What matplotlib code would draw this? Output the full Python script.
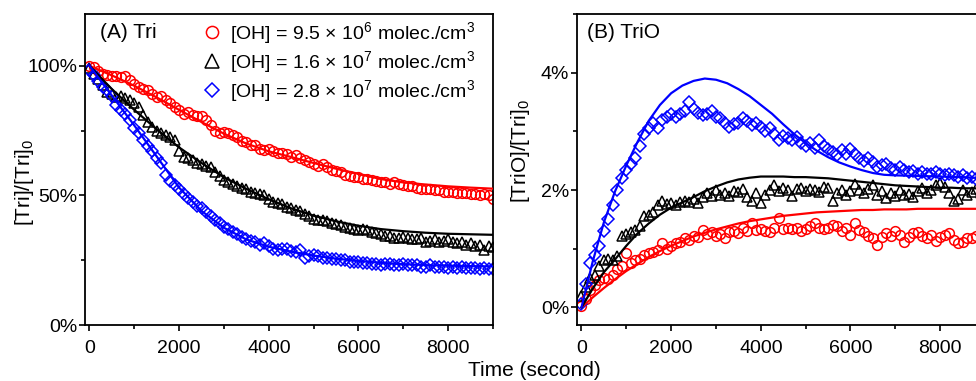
import numpy as np
import matplotlib
matplotlib.use('Agg')
import matplotlib.pyplot as plt
from matplotlib.ticker import MultipleLocator, FuncFormatter

plt.rcParams['font.family'] = ['Liberation Sans', 'DejaVu Sans']
plt.rcParams['mathtext.fontset'] = 'custom'
plt.rcParams['mathtext.rm'] = 'Liberation Sans'
plt.rcParams['mathtext.it'] = 'Liberation Sans:italic'

# measured points, every 100 s from 0 to 9000 s
time_s = np.arange(0, 9001, 100)
# fitted curves
fit_t_left = np.arange(0, 9001, 500)
fit_t_right = np.arange(0, 9001, 250)

labels = ['[OH] = 9.5 $\\times$ 10$^6$ molec./cm$^3$',
          '[OH] = 1.6 $\\times$ 10$^7$ molec./cm$^3$',
          '[OH] = 2.8 $\\times$ 10$^7$ molec./cm$^3$']

# (A) Tri, percent of initial
tri_low = [100, 99.5, 98, 97, 96.5, 96, 96.2, 95.5, 96, 94.5,
           93, 92, 91, 90.5, 89, 88, 88.5, 87, 85.5, 84,
           83, 81.5, 82, 81, 80.5, 80.5, 79, 77, 75, 74,
           74.5, 74, 73.5, 72.5, 71, 70.5, 69.5, 69.5, 68, 67.5,
           68, 67, 66.5, 66.5, 66, 65, 65.5, 64.5, 63.5, 63,
           62, 61.5, 62, 61, 60, 59.5, 59, 58, 57.5, 57,
           57, 56.5, 56.5, 56, 55.5, 55, 55, 54.5, 55, 54.5,
           54, 53.5, 53.5, 53, 52.5, 52.5, 52.5, 52, 52, 51.5,
           51.5, 51.5, 51, 51, 51, 50.5, 50.5, 50, 50.5, 50, 48.5]
tri_mid = [99, 97, 95, 92.5, 90, 89, 88, 88.5, 87.5, 87,
           85.5, 84, 81, 78.5, 76.5, 75, 74, 73.5, 72.5, 71.5,
           67, 65, 64.5, 63.5, 62.5, 62, 61.5, 61, 59, 57.5,
           56, 55, 54.5, 53.5, 53, 52.5, 51.5, 51, 50.5, 50,
           48.5, 47.5, 47, 46.5, 45.5, 45, 44.5, 44, 43, 42,
           41, 40.5, 40.5, 40, 39.5, 39, 38.5, 38, 37.5, 37,
           36.5, 37, 36.5, 36, 35.5, 35, 34.5, 34.5, 33.5, 33.5,
           34, 33.5, 33, 33, 33.5, 32, 32.5, 33, 32, 32.5,
           33, 32, 31.5, 32, 31, 31.5, 30.5, 31, 29, 30.5, 30]
tri_high = [98.5, 96.5, 94, 92, 90.5, 88.5, 85, 83, 81.5, 79,
            76, 74, 71.5, 69, 67, 64.5, 62.5, 58, 55.5, 54,
            52.5, 50.5, 49, 47.5, 46, 45, 43.5, 42, 40.5, 39.5,
            38, 37, 36, 35, 34, 33, 32.5, 32, 31, 31.5,
            30.5, 29.5, 29, 29.5, 29.5, 28.5, 28, 29, 26, 26.5,
            27, 26.5, 26, 26, 25.5, 25.5, 25, 25, 24.5, 24.5,
            24.5, 24, 24, 23.5, 23.5, 23, 23.5, 23.5, 23, 23,
            23.5, 23, 23, 23, 22.5, 22.5, 23, 22.5, 22.5, 22.5,
            22, 22.5, 22, 22.5, 22, 22, 22, 21.5, 22, 21.5, 21.5]
fit_tri_low = [100, 96.3, 92.3, 87.8, 83, 78.3, 73.8, 70, 67, 64.8,
               62.5, 60.3, 58.3, 56.3, 55, 54.2, 53.5, 53, 52.6]
fit_tri_mid = [100, 91, 83, 75.5, 68.5, 62.5, 57, 52.5, 48.5, 45,
               42.2, 40, 38.3, 37, 36.2, 35.6, 35.2, 35, 34.8]
fit_tri_high = [100, 88.5, 77, 65, 53, 44, 37.5, 33, 30.2, 28.3,
                26.8, 25.6, 24.7, 24, 23.5, 23.1, 22.9, 22.7, 22.6]

# (B) TriO, percent of initial Tri
trio_low = [0.03, 0.15, 0.3, 0.38, 0.46, 0.5, 0.48, 0.55, 0.65, 0.7,
            0.92, 0.75, 0.8, 0.82, 0.9, 0.92, 0.95, 0.98, 1.1, 1.0,
            1.05, 1.09, 1.12, 1.18, 1.15, 1.22, 1.2, 1.32, 1.25, 1.28,
            1.22, 1.25, 1.19, 1.28, 1.31, 1.26, 1.36, 1.3, 1.43, 1.32,
            1.34, 1.3, 1.28, 1.35, 1.53, 1.34, 1.36, 1.33, 1.36, 1.31,
            1.33, 1.38, 1.43, 1.36, 1.34, 1.36, 1.4, 1.38, 1.3, 1.35,
            1.23, 1.43, 1.32, 1.28, 1.22, 1.18, 1.06, 1.2, 1.26, 1.22,
            1.31, 1.24, 1.11, 1.2, 1.26, 1.28, 1.22, 1.19, 1.23, 1.14,
            1.2, 1.24, 1.26, 1.15, 1.09, 1.12, 1.18, 1.19, 1.22, 1.24, 1.2]
trio_mid = [0.2, 0.35, 0.5, 0.55, 0.7, 0.8, 0.82, 0.8, 0.88, 1.22,
            1.25, 1.28, 1.32, 1.38, 1.55, 1.58, 1.62, 1.75, 1.82, 1.76,
            1.78, 1.74, 1.8, 1.82, 1.8, 1.85, 1.78, 1.88, 1.95, 1.9,
            2.0, 1.92, 1.95, 1.9, 1.98, 1.96, 2.02, 1.88, 1.82, 1.95,
            1.78, 1.92, 2.0, 2.08, 1.98, 2.04, 2.0, 1.9, 2.02, 2.04,
            1.98, 2.02, 2.0, 1.96, 2.05, 2.04, 1.82, 1.95, 2.0, 1.92,
            1.98, 2.1, 2.0, 1.95, 2.02, 2.08, 1.92, 1.98, 1.87, 1.95,
            1.9, 2.0, 1.92, 1.94, 1.88, 1.98, 2.04, 1.95, 2.0, 2.08,
            2.12, 2.05, 1.95, 1.82, 1.85, 2.0, 1.92, 1.96, 2.02, 1.95, 1.98]
trio_high = [0.05, 0.4, 0.75, 0.9, 1.05, 1.3, 1.5, 1.75, 2.0, 2.2,
             2.35, 2.45, 2.55, 2.75, 2.95, 3.05, 3.15, 3.05, 3.2, 3.25,
             3.3, 3.25, 3.3, 3.35, 3.5, 3.38, 3.32, 3.28, 3.3, 3.35,
             3.25, 3.22, 3.15, 3.08, 3.12, 3.15, 3.22, 3.18, 3.1, 3.15,
             3.08, 3.0, 3.05, 2.95, 2.85, 2.92, 2.88, 2.85, 2.9, 2.8,
             2.75, 2.8, 2.72, 2.85, 2.75, 2.7, 2.65, 2.6, 2.68, 2.62,
             2.7, 2.62, 2.55, 2.5, 2.55, 2.48, 2.4, 2.42, 2.45, 2.38,
             2.35, 2.4, 2.35, 2.3, 2.32, 2.28, 2.3, 2.28, 2.27, 2.3,
             2.28, 2.25, 2.27, 2.25, 2.22, 2.25, 2.2, 2.22, 2.18, 2.2, 2.15]
fit_trio_low = [0, 0.17, 0.33, 0.48, 0.62, 0.74, 0.86, 0.96, 1.05, 1.13,
                1.21, 1.27, 1.33, 1.38, 1.43, 1.47, 1.5, 1.53, 1.56, 1.58,
                1.6, 1.62, 1.63, 1.64, 1.65, 1.66, 1.66, 1.67, 1.67, 1.67,
                1.68, 1.68, 1.68, 1.68, 1.68, 1.68, 1.68]
fit_trio_mid = [0, 0.32, 0.6, 0.82, 1.05, 1.26, 1.43, 1.58, 1.7, 1.79,
                1.88, 1.98, 2.06, 2.13, 2.18, 2.21, 2.23, 2.23, 2.23, 2.22,
                2.22, 2.21, 2.2, 2.18, 2.16, 2.14, 2.12, 2.1, 2.08, 2.07,
                2.06, 2.05, 2.04, 2.04, 2.03, 2.03, 2.02]
fit_trio_high = [0, 0.78, 1.45, 1.98, 2.42, 2.82, 3.18, 3.45, 3.65, 3.78,
                 3.86, 3.9, 3.88, 3.82, 3.72, 3.6, 3.45, 3.3, 3.12, 2.95,
                 2.8, 2.67, 2.56, 2.47, 2.4, 2.34, 2.29, 2.26, 2.25, 2.245,
                 2.24, 2.235, 2.23, 2.225, 2.22, 2.21, 2.2]

colors = ['#ff0000', '#000000', '#0000ff']
markers = ['o', '^', 'D']
msizes = [7, 7.5, 6]


def style_axes(ax):
    for s in ax.spines.values():
        s.set_linewidth(1.3)
    ax.tick_params(which='both', direction='out', top=False, right=False,
                   width=1.2, labelsize=14)
    ax.tick_params(which='major', length=4.5)
    ax.tick_params(which='minor', length=3)
    ax.tick_params(axis='x', pad=6)
    ax.tick_params(axis='y', pad=1)
    ax.set_xlim(-100, 9000)
    ax.xaxis.set_major_locator(MultipleLocator(2000))
    ax.xaxis.set_minor_locator(MultipleLocator(1000))


fig = plt.figure(figsize=(9.76, 3.81), dpi=100)
ax1 = fig.add_axes([85 / 976, 56 / 381, 408 / 976, 311 / 381])
ax2 = fig.add_axes([577 / 976, 56 / 381, 408 / 976, 311 / 381])

pct = FuncFormatter(lambda v, p: '%d%%' % round(v))

# panel A
for y, f, c, m, ms, lab in zip([tri_low, tri_mid, tri_high],
                               [fit_tri_low, fit_tri_mid, fit_tri_high],
                               colors, markers, msizes, labels):
    ax1.plot(fit_t_left, f, color=c, lw=1.6, zorder=3)
    ax1.plot(time_s, y, ls='none', marker=m, ms=ms, mfc='none', mec=c,
             mew=1.1, label=lab, zorder=2)
style_axes(ax1)
ax1.set_ylim(0, 120)
ax1.yaxis.set_major_locator(MultipleLocator(50))
ax1.yaxis.set_minor_locator(MultipleLocator(25))
ax1.yaxis.set_major_formatter(pct)
ax1.text(0.037, 0.94, '(A) Tri', transform=ax1.transAxes, fontsize=15,
         va='center', ha='left')
ax1.legend(loc='upper left', bbox_to_anchor=(0.27, 1.005), frameon=False,
           fontsize=14, handlelength=0.9, handletextpad=0.5,
           labelspacing=0.15, markerscale=1.25, borderaxespad=0)

# panel B
for y, f, c, m, ms in zip([trio_low, trio_mid, trio_high],
                          [fit_trio_low, fit_trio_mid, fit_trio_high],
                          colors, markers, msizes):
    ax2.plot(fit_t_right, f, color=c, lw=1.6, zorder=3)
    ax2.plot(time_s, y, ls='none', marker=m, ms=ms, mfc='none', mec=c,
             mew=1.1, zorder=2)
style_axes(ax2)
ax2.set_ylim(-0.3, 5.0)
ax2.yaxis.set_major_locator(MultipleLocator(2))
ax2.yaxis.set_minor_locator(MultipleLocator(1))
ax2.yaxis.set_major_formatter(pct)
ax2.text(0.025, 0.94, '(B) TriO', transform=ax2.transAxes, fontsize=15,
         va='center', ha='left')

# axis titles placed where they sit in the original figure
fig.text(25 / 976, 1 - 182 / 381, '[Tri]/[Tri]$_0$', fontsize=15,
         rotation=90, ha='center', va='center')
fig.text(520 / 976, 1 - 151 / 381, '[TriO]/[Tri]$_0$', fontsize=15,
         rotation=90, ha='center', va='center')
fig.text(534 / 976, 1 - 371 / 381, 'Time (second)', fontsize=15,
         ha='center', va='center')

fig.savefig('out.png', dpi=100)
